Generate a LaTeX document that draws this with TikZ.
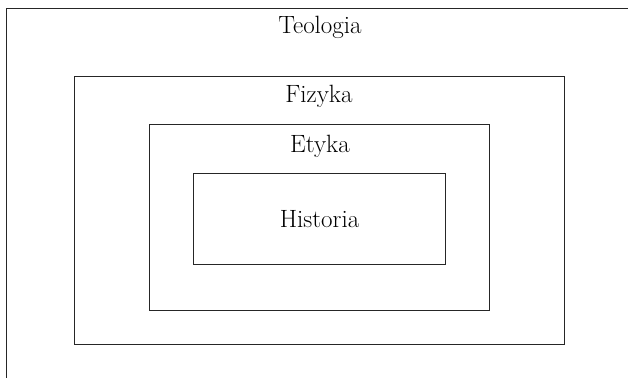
\documentclass[tikz,border=0pt]{standalone}
\begin{document}
\begin{tikzpicture}[x=1pt,y=-1pt,
  frame/.style={draw=black!85,line width=0.9pt,inner sep=0pt,outer sep=0pt},
  lbl/.style={anchor=base,inner sep=0pt,font=\fontsize{25}{30}\selectfont}]
\useasboundingbox (0,0) rectangle (628,377);
\begin{scope}
\clip (0,0) rectangle (628,377);
\draw[black!85,line width=0.9pt] (6,390) -- (6,8.5) -- (640,8.5);
\end{scope}
\node[frame,minimum width=489.5pt,minimum height=268pt] (fiz) at (319.5,210) {};
\node[frame,minimum width=340pt,minimum height=185.5pt] (ety) at (319.5,217.5) {};
\node[frame,minimum width=252pt,minimum height=90.5pt] (his) at (319.25,219) {};
\node[lbl] (teo) at (320,34) {Teologia};
\node[lbl] (fizl) at (319,102.5) {Fizyka};
\node[lbl] (etyl) at (320,152) {Etyka};
\node[lbl] (hisl) at (319.5,227) {Historia};
\end{tikzpicture}
\end{document}
